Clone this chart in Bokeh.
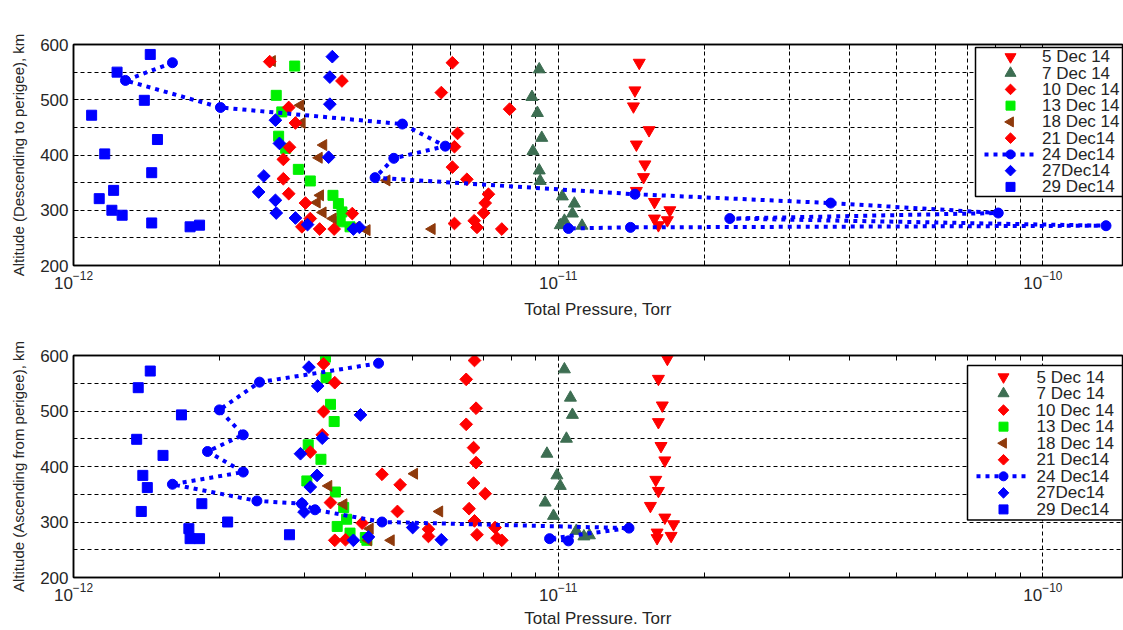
import math
from bokeh.plotting import figure
from bokeh.layouts import column
from bokeh.models import (FixedTicker, LogAxis, Range1d, LinearScale,
                          CustomJSTickFormatter, LogTickFormatter)
from bokeh.core.properties import value
from bokeh.embed import file_html
from bokeh.resources import INLINE

# ---------------- data: upper panel (descending to perigee) ----------------
d05_dn_p = [1.47e-11, 1.44e-11, 1.43e-11, 1.54e-11, 1.45e-11, 1.51e-11, 1.50e-11, 1.45e-11, 1.58e-11, 1.70e-11, 1.58e-11, 1.68e-11, 1.61e-11]
d05_dn_h = [567, 517, 488, 445, 419, 383, 360, 335, 315, 300, 285, 282, 273]
d07_dn_p = [9.14e-12, 8.83e-12, 9.06e-12, 9.25e-12, 8.87e-12, 9.14e-12, 9.18e-12, 1.02e-11, 1.08e-11, 1.07e-11, 1.03e-11, 1.12e-11, 1.01e-11]
d07_dn_h = [555, 505, 476, 431, 407, 372, 353, 325, 312, 294, 281, 272, 273]
d10_dn_p = [6.05e-12, 5.74e-12, 7.94e-12, 6.20e-12, 6.11e-12, 6.05e-12, 6.48e-12, 7.18e-12, 7.07e-12, 7.02e-12, 6.11e-12, 6.71e-12, 6.80e-12, 7.65e-12]
d10_dn_h = [567, 513, 483, 439, 415, 378, 356, 329, 313, 295, 276, 281, 269, 266]
d13_dn_p = [2.86e-12, 2.62e-12, 2.69e-12, 2.65e-12, 2.74e-12, 2.91e-12, 3.08e-12, 3.43e-12, 3.52e-12, 3.58e-12, 3.55e-12, 3.72e-12]
d13_dn_h = [561, 508, 478, 434, 412, 374, 353, 327, 312, 297, 279, 270]
d18_dn_p = [2.57e-12, 2.94e-12, 2.96e-12, 3.28e-12, 3.21e-12, 3.23e-12, 3.18e-12, 3.27e-12, 3.43e-12, 3.84e-12, 4.03e-12, 4.43e-12, 5.49e-12]
d18_dn_h = [570, 490, 458, 418, 395, 327, 314, 296, 285, 270, 264, 354, 266]
d21_dn_p = [2.54e-12, 3.58e-12, 2.78e-12, 2.87e-12, 2.79e-12, 2.71e-12, 2.71e-12, 2.78e-12, 3.01e-12, 3.08e-12, 2.96e-12, 3.22e-12, 3.45e-12, 3.76e-12]
d21_dn_h = [569, 534, 486, 458, 414, 392, 357, 330, 313, 285, 270, 266, 266, 294]
d24_dn_p = [1.60e-12, 1.28e-12, 2.01e-12, 4.77e-12, 5.85e-12, 4.58e-12, 4.19e-12, 1.44e-11, 3.65e-11, 8.09e-11, 2.26e-11, 1.35e-10, 1.41e-11, 1.05e-11]
d24_dn_h = [567, 535, 486, 456, 416, 394, 359, 329, 313, 295, 285, 272, 269, 267]
d27_dn_p = [3.42e-12, 3.38e-12, 3.38e-12, 2.61e-12, 2.66e-12, 3.36e-12, 2.47e-12, 2.41e-12, 2.61e-12, 2.62e-12, 2.87e-12, 3.04e-12, 3.78e-12, 3.89e-12]
d27_dn_h = [578, 541, 492, 463, 421, 396, 362, 333, 318, 295, 286, 274, 266, 269]
d29_dn_p = [1.44e-12, 1.23e-12, 1.40e-12, 1.09e-12, 1.49e-12, 1.16e-12, 1.45e-12, 1.21e-12, 1.13e-12, 1.20e-12, 1.26e-12, 1.45e-12, 1.74e-12, 1.82e-12]
d29_dn_h = [582, 550, 499, 472, 428, 402, 368, 336, 321, 300, 291, 277, 270, 273]

# ---------------- data: lower panel (ascending from perigee) ----------------
d05_up_p = [1.68e-11, 1.61e-11, 1.64e-11, 1.61e-11, 1.63e-11, 1.66e-11, 1.59e-11, 1.61e-11, 1.55e-11, 1.66e-11, 1.73e-11, 1.60e-11, 1.60e-11, 1.71e-11]
d05_up_h = [594, 558, 510, 480, 437, 411, 376, 356, 329, 308, 296, 281, 271, 275]
d07_up_p = [1.03e-11, 1.06e-11, 1.07e-11, 1.04e-11, 9.48e-12, 9.94e-12, 1.01e-11, 9.40e-12, 9.78e-12, 1.09e-11, 1.13e-11, 1.16e-11]
d07_up_h = [575, 524, 493, 450, 423, 384, 365, 335, 311, 284, 274, 276]
d10_up_p = [6.72e-12, 6.46e-12, 6.77e-12, 6.46e-12, 6.69e-12, 6.77e-12, 6.69e-12, 7.07e-12, 6.55e-12, 6.72e-12, 6.80e-12, 7.41e-12, 7.48e-12, 7.65e-12]
d10_up_h = [591, 557, 505, 476, 434, 407, 370, 351, 324, 302, 277, 290, 271, 267]
d13_up_p = [3.31e-12, 3.32e-12, 3.39e-12, 3.45e-12, 3.05e-12, 3.24e-12, 3.03e-12, 3.47e-12, 3.61e-12, 3.66e-12, 3.50e-12, 3.72e-12, 4.00e-12, 4.03e-12]
d13_up_h = [597, 560, 512, 481, 439, 413, 374, 354, 326, 305, 292, 280, 272, 267]
d18_up_p = [3.36e-12, 3.61e-12, 4.09e-12, 4.06e-12, 5.05e-12, 5.69e-12, 4.52e-12]
d18_up_h = [365, 332, 288, 267, 387, 319, 267]
d21_up_p = [3.28e-12, 3.46e-12, 3.28e-12, 3.26e-12, 3.08e-12, 3.39e-12, 3.46e-12, 3.64e-12, 3.94e-12, 4.33e-12, 4.72e-12, 4.66e-12, 5.40e-12, 5.40e-12]
d21_up_h = [585, 551, 499, 457, 426, 335, 267, 268, 298, 386, 367, 319, 287, 274]
d24_up_p = [4.26e-12, 2.42e-12, 2.00e-12, 2.24e-12, 1.89e-12, 2.24e-12, 1.60e-12, 2.39e-12, 2.96e-12, 3.15e-12, 4.33e-12, 1.40e-11, 9.60e-12, 1.05e-11]
d24_up_h = [586, 552, 502, 457, 427, 390, 368, 338, 333, 322, 300, 289, 270, 266]
d27_up_p = [3.06e-12, 3.19e-12, 3.91e-12, 3.26e-12, 2.94e-12, 3.18e-12, 3.08e-12, 2.96e-12, 2.99e-12, 3.78e-12, 4.06e-12, 5.01e-12, 5.74e-12]
d27_up_h = [579, 545, 493, 451, 423, 384, 363, 333, 318, 267, 273, 290, 268]
d29_up_p = [1.44e-12, 1.36e-12, 1.67e-12, 1.35e-12, 1.53e-12, 1.39e-12, 1.42e-12, 1.38e-12, 1.84e-12, 1.73e-12, 1.74e-12, 1.82e-12, 2.08e-12, 2.79e-12]
d29_up_h = [572, 542, 493, 449, 420, 384, 362, 319, 333, 288, 270, 270, 300, 277]

# ---------------- axes ticks / labels ----------------
x_major = [1e-12, 1e-11, 1e-10]
x_minor = [m * 10.0 ** e for e in (-12, -11, -10) for m in range(2, 10)]
y_major = [200, 300, 400, 500, 600]
y_minor = [250, 350, 450, 550]
labels = ["5 Dec 14", "7 Dec 14", "10 Dec 14", "13 Dec 14", "18 Dec 14",
          "21 Dec14", "24 Dec14", "27Dec14", "29 Dec14"]

FONT = "Liberation Sans"
TXT = "#262626"
RED = "#ff0000"
DKGREEN = "#3d6e52"
GREEN = "#00f000"
BROWN = "#8f3a0c"
BLUE = "#0000ff"

# marker, color, plot size, legend size, angle
styles = [
    ("inverted_triangle", RED, 12, 11, 0.0),
    ("triangle", DKGREEN, 12, 11, 0.0),
    ("square", RED, 9, 7.5, math.pi / 4),
    ("square", GREEN, 10, 9, 0.0),
    ("triangle", BROWN, 11, 10, math.pi / 2),
    ("square", RED, 9, 7.5, math.pi / 4),
    ("circle", BLUE, 10, 9, 0.0),
    ("square", BLUE, 9, 7.5, math.pi / 4),
    ("square", BLUE, 10, 9, 0.0),
]

W_FIG = 1123
B_LEFT = 73
B_RIGHT = 1
X_MAX = 1.46e-10
blank = CustomJSTickFormatter(code="return ''")


def panel(series, ylabel, xlabel, minor_vgrid, height, btop, bbot, leg, xstand):
    frame_w = W_FIG - B_LEFT - B_RIGHT
    frame_h = height - btop - bbot
    p = figure(width=W_FIG, height=height, x_axis_type="log",
               x_range=Range1d(1e-12, X_MAX), y_range=Range1d(200, 600),
               output_backend="svg", toolbar_location=None,
               min_border_left=B_LEFT, min_border_right=B_RIGHT,
               min_border_top=btop, min_border_bottom=bbot)
    p.background_fill_color = "white"
    p.border_fill_color = "white"
    p.outline_line_color = "black"
    p.outline_line_width = 1.5

    xt = FixedTicker(ticks=x_major, minor_ticks=x_minor)
    yt = FixedTicker(ticks=y_major, minor_ticks=y_minor)

    for ax in p.xaxis:
        ax.ticker = xt
        ax.formatter = LogTickFormatter()
    for ax in p.yaxis:
        ax.ticker = yt
    for ax in list(p.xaxis) + list(p.yaxis):
        ax.axis_line_color = "black"
        ax.axis_line_width = 1.5
        ax.major_tick_in = 5
        ax.major_tick_out = 0
        ax.minor_tick_in = 5
        ax.minor_tick_out = 0
        ax.major_tick_line_color = "black"
        ax.minor_tick_line_color = "black"
        ax.major_label_text_font = FONT
        ax.major_label_text_font_size = "17px"
        ax.major_label_text_color = TXT
        ax.axis_label_text_font = FONT
        ax.axis_label_text_font_style = "normal"
        ax.axis_label_text_color = TXT
    for ax in p.yaxis:
        ax.minor_tick_line_color = None
        ax.axis_label = ylabel
        ax.axis_label_text_font_size = "15px"
        ax.axis_label_standoff = 10
        ax.major_label_standoff = 5
    for ax in p.xaxis:
        ax.axis_label = xlabel
        ax.axis_label_text_font_size = "17px"
        ax.axis_label_standoff = xstand
        ax.major_label_standoff = 5

    top = LogAxis(ticker=xt, formatter=blank, major_tick_in=5, major_tick_out=0,
                  minor_tick_in=5, minor_tick_out=0, major_label_standoff=0,
                  axis_line_color="black", axis_line_width=1.5)
    p.add_layout(top, "above")

    p.xgrid.ticker = xt
    p.ygrid.ticker = yt
    for g in (p.xgrid[0], p.ygrid[0]):
        g.grid_line_color = "black"
        g.grid_line_dash = "4 3"
        g.grid_line_width = 1
    p.ygrid.minor_grid_line_color = "black"
    p.ygrid.minor_grid_line_dash = "4 3"
    if minor_vgrid:
        p.xgrid.minor_grid_line_color = "black"
        p.xgrid.minor_grid_line_dash = "4 3"

    # data series
    for (xs, ys), (mk, col, sz, lsz, ang), lab in zip(series, styles, labels):
        if lab.startswith("24"):
            p.line(xs, ys, line_color=col, line_width=4, line_dash="4 5")
        p.scatter(xs, ys, marker=mk, size=sz, angle=ang, fill_color=col, line_color=col)

    # legend drawn in pixel units measured from the frame's top-right corner
    p.extra_x_ranges = {"lx": Range1d(-frame_w, 0)}
    p.extra_y_ranges = {"ly": Range1d(-frame_h, 0)}
    p.extra_x_scales = {"lx": LinearScale()}
    p.extra_y_scales = {"ly": LinearScale()}
    box_l, box_t, box_b, row0, pitch, mx, tx, lx0, lx1 = leg
    p.quad(left=[box_l], right=[0], top=[-box_t], bottom=[-box_b],
           fill_color="white", line_color="black", line_width=1.5,
           x_range_name="lx", y_range_name="ly", level="overlay")
    rows = [-(row0 + i * pitch) for i in range(len(labels))]
    i24 = labels.index("24 Dec14")
    p.line([lx0, lx1], [rows[i24], rows[i24]], line_color=BLUE, line_width=4,
           line_dash="4 5", x_range_name="lx", y_range_name="ly", level="overlay")
    p.scatter(x=[mx] * len(labels), y=rows,
              marker=[s[0] for s in styles], size=[s[3] for s in styles],
              angle=[s[4] for s in styles],
              fill_color=[s[1] for s in styles], line_color=[s[1] for s in styles],
              x_range_name="lx", y_range_name="ly", level="overlay")
    p.text(x=[tx] * len(labels), y=rows, text=labels, text_baseline="middle",
           text_align="left", text_font=value(FONT), text_font_size="17px",
           text_color=TXT, x_range_name="lx", y_range_name="ly", level="overlay")
    return p


top_series = [(d05_dn_p, d05_dn_h), (d07_dn_p, d07_dn_h), (d10_dn_p, d10_dn_h),
              (d13_dn_p, d13_dn_h), (d18_dn_p, d18_dn_h), (d21_dn_p, d21_dn_h),
              (d24_dn_p, d24_dn_h), (d27_dn_p, d27_dn_h), (d29_dn_p, d29_dn_h)]
bot_series = [(d05_up_p, d05_up_h), (d07_up_p, d07_up_h), (d10_up_p, d10_up_h),
              (d13_up_p, d13_up_h), (d18_up_p, d18_up_h), (d21_up_p, d21_up_h),
              (d24_up_p, d24_up_h), (d27_up_p, d27_up_h), (d29_up_p, d29_up_h)]

# legend geometry: box left, box top, box bottom, first row, row pitch, marker x, text x, line x0, x1
leg_top = (-147, 3, 152, 12.4, 16.25, -112, -80.5, -138, -89)
leg_bot = (-155, 10, 166, 21.7, 16.7, -119, -86, -146, -97)

p1 = panel(top_series, "Altitude (Descending to perigee), km", "Total Pressure, Torr",
           True, 327, 44, 62, leg_top, 8)
p2 = panel(bot_series, "Altitude (Ascending from perigee), km", "Total Pressure. Torr",
           False, 303, 28, 51, leg_bot, 5)

page = column(p1, p2)
open("out.html", "w").write(file_html(page, INLINE))
